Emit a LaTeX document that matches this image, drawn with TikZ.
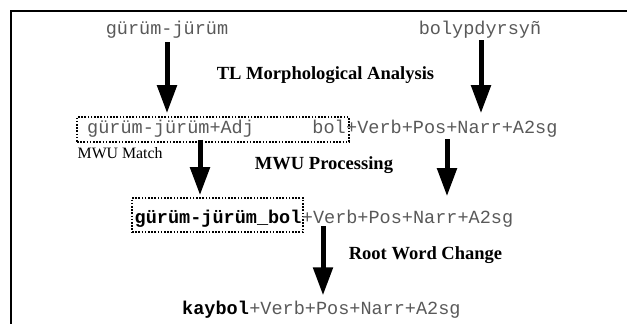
\documentclass[tikz,border=0pt]{standalone}
\usepackage{fontspec}
\setmainfont{Liberation Serif}
\setmonofont{Liberation Mono}
\usetikzlibrary{arrows.meta}

\begin{document}
\begin{tikzpicture}[x = 1bp, y = -1bp,
        morph/.style = {inner sep = 0pt, anchor = base, text = black!65, font = \ttfamily\fontsize{18.6}{22}\selectfont},
        root/.style = {morph, text = black, font = \ttfamily\bfseries\fontsize{18.6}{22}\selectfont},
        stage/.style = {inner sep = 0pt, anchor = base, font = \bfseries\fontsize{18.6}{22}\selectfont},
        mwubox/.style = {draw, line width = 1.6bp, dash pattern = on 1.6bp off 1.6bp, inner sep = 0pt},
        bigarrow/.style = {line width = 5bp, -{Triangle[length = 28bp, width = 19bp]}}]
        \useasboundingbox (0,0) rectangle (627,323);
        \draw[line width = 2.2bp] (10.7,330) -- (10.7,11.3) -- (640,11.3);

        % surface forms
        \node[morph] (src1) at (167,34) {gürüm-jürüm};
        \node[morph] (src2) at (480,34) {bolypdyrsyñ};
        \node[stage] (tlma) at (325.5,79) {TL Morphological Analysis};

        % analyses and the MWU match
        \node[mwubox, minimum width = 272bp, minimum height = 25bp] (match) at (213,129.5) {};
        \node[morph, anchor = base west] (adj) at (87,133) {gürüm-jürüm+Adj};
        \node[morph, anchor = base east] (bol) at (346,133) {bol};
        \node[morph, anchor = base west] (infl1) at (bol.base east) {+Verb+Pos+Narr+A2sg};
        \node[anchor = base west, inner sep = 0pt, font = \fontsize{15.9}{18}\selectfont] (matchlabel) at (77.5,158) {MWU Match};
        \node[stage] (mwup) at (324,169) {MWU Processing};

        % merged root
        \node[mwubox, minimum width = 171bp, minimum height = 34bp] (mwu) at (217.5,215) {};
        \node[root, anchor = base west] (joined) at (134.5,223) {gürüm-jürüm\_bol};
        \node[morph, anchor = base west] (infl2) at (joined.base east) {+Verb+Pos+Narr+A2sg};
        \node[stage] (rwc) at (425.5,259) {Root Word Change};

        % final form
        \node[root, anchor = base west] (kaybol) at (182,314) {kaybol};
        \node[morph, anchor = base west] (infl3) at (kaybol.base east) {+Verb+Pos+Narr+A2sg};

        \draw[bigarrow, shorten <= 4bp, shorten >= 3bp] (src1.south) -- (src1.south |- match.north);
        \draw[bigarrow, shorten <= 2bp, shorten >= 3bp] ([xshift = 1bp]src2.south) -- ([xshift = 1bp]src2.south |- match.north);
        \coordinate (split1) at ([xshift = -13bp, yshift = 3bp]match.south);
        \draw[bigarrow, shorten >= 2bp] (split1) -- (split1 |- mwu.north);
        \coordinate (split2) at (447,139);
        \draw[bigarrow, shorten >= 1bp] (split2) -- (split2 |- mwu.north);
        \coordinate (change) at (323,226);
        \draw[bigarrow, shorten >= 5bp] (change) -- (change |- kaybol.north);
\end{tikzpicture}
\end{document}
